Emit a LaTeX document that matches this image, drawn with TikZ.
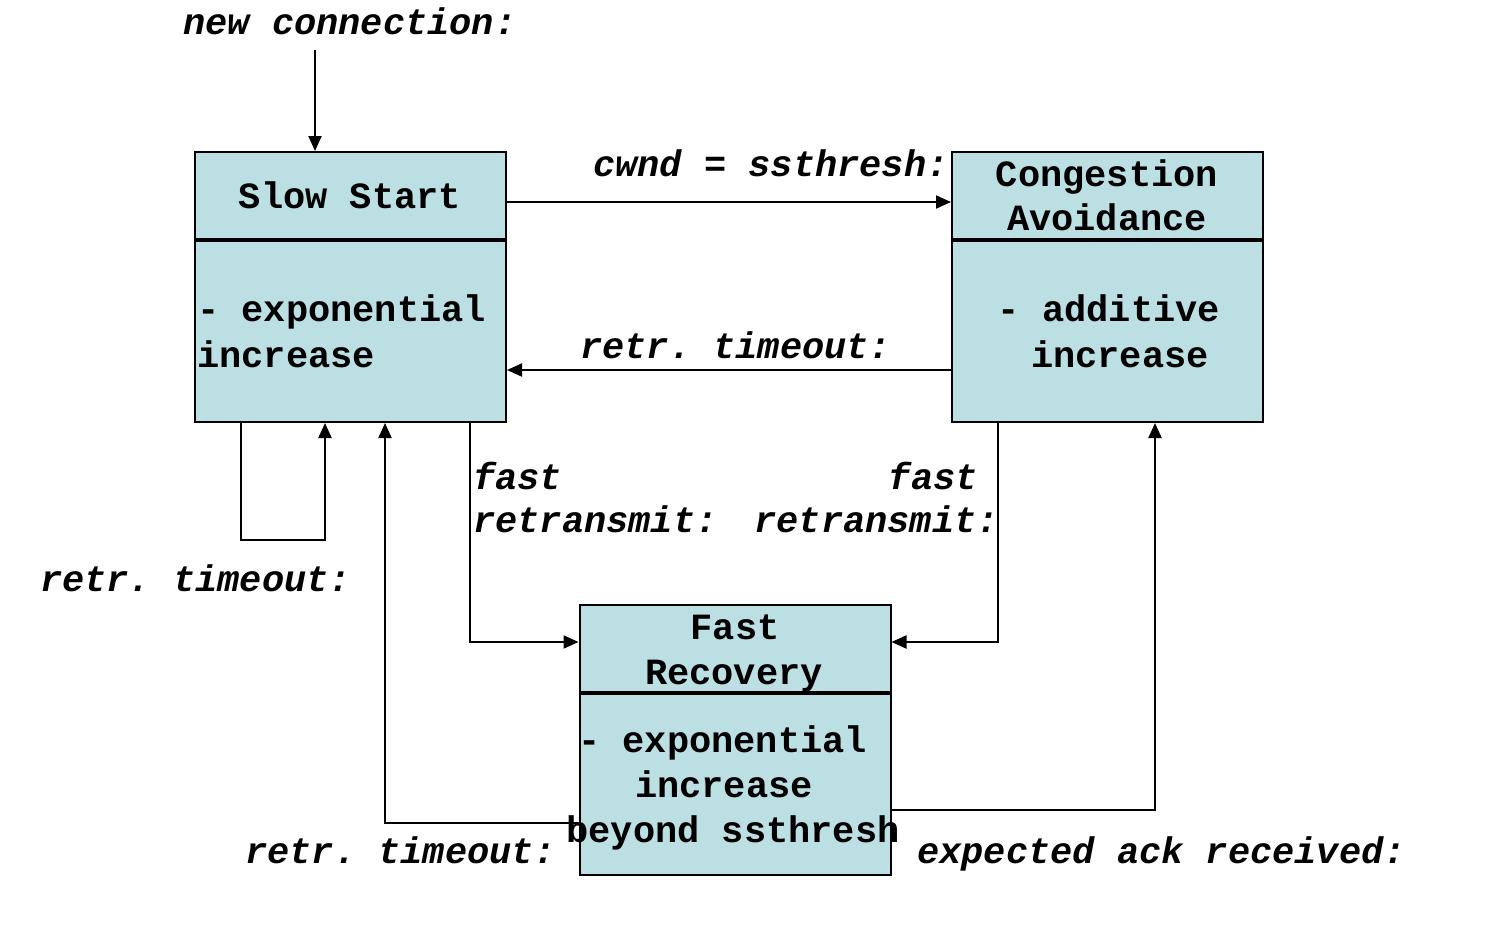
\documentclass[tikz,border=0pt]{standalone}
\usepackage{fontspec}
\setmonofont{Liberation Mono}
\usetikzlibrary{arrows.meta}
\definecolor{statefill}{RGB}{187,223,227}
\tikzset{
  state/.style={draw=black, line width=2pt, fill=statefill, minimum width=311pt, minimum height=270pt, inner sep=0pt},
  divider/.style={line width=4pt},
  arr/.style={line width=2pt, -{Triangle[length=15pt,width=13pt]}},
  txt/.style={font=\fontsize{37}{45}\selectfont\ttfamily\bfseries, inner sep=0pt},
  lab/.style={font=\fontsize{37}{45}\selectfont\ttfamily\bfseries\itshape, inner sep=0pt}
}
\begin{document}
\begin{tikzpicture}[x=1pt,y=-1pt]
\useasboundingbox (0,0) rectangle (1508,950);
\fill[white] (0,0) rectangle (1508,950);
% states
\node[state] (ss) at (350.5,287) {};
\node[state] (ca) at (1107.5,287) {};
\node[state] (fr) at (735,740) {};
\draw[divider] ([yshift=-89pt]ss.north west) -- ([yshift=-89pt]ss.north east);
\draw[divider] ([yshift=-89pt]ca.north west) -- ([yshift=-89pt]ca.north east);
\draw[divider] ([yshift=-89pt]fr.north west) -- ([yshift=-89pt]fr.north east);
% state texts
\node[txt, anchor=mid] (sst) at (350,206) {Slow Start};
\node[txt, anchor=mid west] (ssb1) at (197,319) {- exponential};
\node[txt, anchor=mid west] (ssb2) at (197,365) {increase};
\node[txt, anchor=mid] (cat1) at (1107,184) {Congestion};
\node[txt, anchor=mid] (cat2) at (1107,228) {Avoidance};
\node[txt, anchor=mid] (cab1) at (1109,319) {- additive};
\node[txt, anchor=mid] (cab2) at (1120,365) {increase};
\node[txt, anchor=mid] (frt1) at (735,637) {Fast};
\node[txt, anchor=mid] (frt2) at (734,682) {Recovery};
\node[txt, anchor=mid west] (frb1) at (578,750) {- exponential};
\node[txt, anchor=mid] (frb2) at (724,795) {increase};
\node[txt, anchor=mid] (frb3) at (733,840) {beyond ssthresh};
% labels
\node[lab, anchor=mid west] (lnew) at (183,32) {new connection:};
\node[lab, anchor=mid west] (lcwnd) at (593,174) {cwnd = ssthresh:};
\node[lab, anchor=mid west] (lrt1) at (580,356) {retr. timeout:};
\node[lab, anchor=mid west] (lfl1) at (473,487) {fast};
\node[lab, anchor=mid west] (lfl2) at (473,530) {retransmit:};
\node[lab, anchor=mid east] (lfr1) at (978,487) {fast};
\node[lab, anchor=mid east] (lfr2) at (999,530) {retransmit:};
\node[lab, anchor=mid west] (lrt2) at (40,589) {retr. timeout:};
\node[lab, anchor=mid west] (lrt3) at (245,861) {retr. timeout:};
\node[lab, anchor=mid west] (lack) at (917,861) {expected ack received:};
% connectors
\coordinate (nstart) at (315,50);
\draw[arr] (nstart) -- (nstart |- ss.north);
\draw[arr] ([yshift=-51pt]ss.north east) -- ([yshift=-51pt]ca.north west);
\draw[arr] ([yshift=-219pt]ca.north west) -- ([yshift=-219pt]ss.north east);
\draw[arr] ([xshift=47pt]ss.south west) -- ++(0,117) -| ([xshift=131pt]ss.south west);
\draw[arr] ([xshift=276pt]ss.south west) |- ([yshift=-38pt]fr.north west);
\draw[arr] ([xshift=47pt]ca.south west) |- ([yshift=-38pt]fr.north east);
\draw[arr] ([yshift=-219pt]fr.north west) -| ([xshift=191pt]ss.south west);
\draw[arr] ([yshift=-206pt]fr.north east) -| ([xshift=204pt]ca.south west);
\end{tikzpicture}
\end{document}
